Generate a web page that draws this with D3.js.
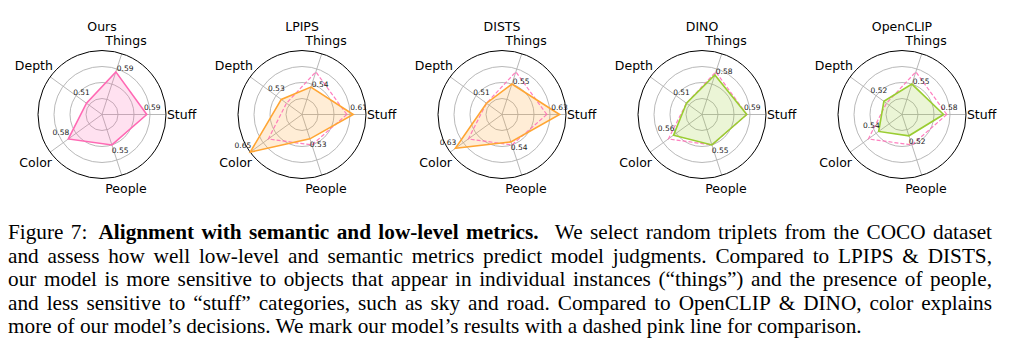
<!DOCTYPE html>
<html>
<head>
<meta charset="utf-8">
<script src="https://cdn.jsdelivr.net/npm/d3@7"></script>
<style>
  html, body { margin: 0; padding: 0; background: #fff; }
  svg { display: block; }
</style>
</head>
<body>
<svg id="chart" width="1012" height="345"></svg>
<script>
// ---------------- data ----------------
const axisNames = ["Stuff", "Things", "Depth", "Color", "People"];
const panelTitles = ["Ours", "LPIPS", "DISTS", "DINO", "OpenCLIP"];
const oursValues = [0.59, 0.59, 0.51, 0.58, 0.55];
const lpipsValues = [0.61, 0.54, 0.53, 0.65, 0.53];
const distsValues = [0.63, 0.55, 0.51, 0.63, 0.54];
const dinoValues = [0.59, 0.58, 0.51, 0.56, 0.55];
const openclipValues = [0.58, 0.55, 0.52, 0.54, 0.52];
const radialDomain = [0.45, 0.65];
const gridTicks = [0.50, 0.55, 0.60];
const captionLines = [
  "Figure 7: Alignment with semantic and low-level metrics. We select random triplets from the COCO dataset",
  "and assess how well low-level and semantic metrics predict model judgments. Compared to LPIPS & DISTS,",
  "our model is more sensitive to objects that appear in individual instances (\u201cthings\u201d) and the presence of people,",
  "and less sensitive to \u201cstuff\u201d categories, such as sky and road. Compared to OpenCLIP & DINO, color explains",
  "more of our model\u2019s decisions. We mark our model\u2019s results with a dashed pink line for comparison."
];
const boldPhrase = "Alignment with semantic and low-level metrics.";

// ---------------- styles ----------------
const seriesValues = [oursValues, lpipsValues, distsValues, dinoValues, openclipValues];
const seriesColors = ["#ff69b4", "#ffa533", "#ffa533", "#9acd32", "#9acd32"];
const pink = "#ff69b4";
const R = 64;
const panelW = 200, firstCx = 102, cy = 114.5;
const labelFont = "DejaVu Sans, sans-serif";
const valueOffsets = [[5.5, -7], [9.3, -3], [-5, -10.5], [-7.4, -6.3], [8.3, 5.7]];
const stuffLabelMaxX = 57.5;

const svg = d3.select("#chart");
const r = d3.scaleLinear().domain(radialDomain).range([0, R]);
// d3 radial angle: 0 at 12 o'clock, clockwise. Axis i at 72*i deg counter-clockwise from east.
const angle = d3.scaleLinear().domain([0, axisNames.length])
  .range([Math.PI / 2, Math.PI / 2 - 2 * Math.PI]);

const line = d3.lineRadial()
  .angle((d, i) => angle(i))
  .radius(d => r(d))
  .curve(d3.curveLinearClosed);

panelTitles.forEach((title, p) => {
  const g = svg.append("g").attr("transform", `translate(${firstCx + p * panelW},${cy})`);
  const vals = seriesValues[p];
  const col = seriesColors[p];

  g.selectAll("circle.grid").data(gridTicks).join("circle")
    .attr("r", d => r(d)).attr("fill", "none")
    .attr("stroke", "#b0b0b0").attr("stroke-width", 0.9);
  g.selectAll("line.spoke").data(axisNames).join("line")
    .attr("x1", 0).attr("y1", 0)
    .attr("x2", (d, i) => d3.pointRadial(angle(i), R)[0])
    .attr("y2", (d, i) => d3.pointRadial(angle(i), R)[1])
    .attr("stroke", "#b0b0b0").attr("stroke-width", 0.9);
  g.append("circle").attr("r", R).attr("fill", "none")
    .attr("stroke", "#000").attr("stroke-width", 1);

  g.append("path").datum(vals).attr("d", line)
    .attr("fill", col).attr("fill-opacity", 0.2).attr("stroke", "none");
  if (p > 0) {
    g.append("path").datum(oursValues).attr("d", line)
      .attr("fill", "none").attr("stroke", pink).attr("stroke-width", 1.2)
      .attr("stroke-dasharray", "4,2").attr("stroke-opacity", 0.85);
  }
  g.append("path").datum(vals).attr("d", line)
    .attr("fill", "none").attr("stroke", col).attr("stroke-width", 1.6)
    .attr("stroke-linejoin", "miter");

  g.selectAll("text.val").data(vals).join("text")
    .attr("x", (d, i) => {
      const x = d3.pointRadial(angle(i), r(d))[0] + valueOffsets[i][0];
      return i === 0 ? Math.min(x, stuffLabelMaxX) : x;
    })
    .attr("y", (d, i) => d3.pointRadial(angle(i), r(d))[1] + valueOffsets[i][1])
    .attr("text-anchor", "middle").attr("dominant-baseline", "central")
    .attr("font-family", labelFont).attr("font-size", 7.5).attr("fill", "#222")
    .text(d => d3.format(".2f")(d));

  axisNames.forEach((name, i) => {
    const t = g.append("text").text(name)
      .attr("font-family", labelFont).attr("font-size", 12.5).attr("fill", "#000")
      .attr("text-anchor", "middle").attr("dominant-baseline", "central");
    const hw = t.node().getComputedTextLength() / 2;
    const a = angle(i);
    const rr = R + 0.9 + Math.abs(Math.sin(a)) * hw + Math.abs(Math.cos(a)) * 6.6;
    const [x, y] = d3.pointRadial(a, rr);
    t.attr("x", x).attr("y", y);
  });

  g.append("text").text(title)
    .attr("x", 0).attr("y", 30.5 - cy)
    .attr("text-anchor", "middle")
    .attr("font-family", labelFont).attr("font-size", 12.5).attr("fill", "#000");
});

// ---------------- caption ----------------
const capX0 = 8, capX1 = 992, capY0 = 239, capDy = 23.6, lastLineRight = 862;
const capFont = "Liberation Serif, Times New Roman, serif";
const boldWords = boldPhrase.split(" ");
const cap = svg.append("g");

// fit font size so the (unjustified) last line has the reference width
const probe = cap.append("text").attr("font-family", capFont).attr("font-size", 20)
  .text(captionLines[captionLines.length - 1]);
const capSize = 20 * (lastLineRight - capX0) / probe.node().getComputedTextLength();
probe.remove();

captionLines.forEach((txt, li) => {
  const y = capY0 + li * capDy;
  if (li === captionLines.length - 1) {
    cap.append("text").attr("x", capX0).attr("y", y)
      .attr("font-family", capFont).attr("font-size", capSize).attr("fill", "#000")
      .text(txt);
    return;
  }
  const words = txt.split(" ");
  const isBold = words.map((w, wi) => li === 0 && wi >= 2 && wi < 2 + boldWords.length);
  const nodes = words.map((w, wi) => cap.append("text").text(w)
    .attr("y", y).attr("font-family", capFont).attr("font-size", capSize)
    .attr("font-weight", isBold[wi] ? "bold" : "normal").attr("fill", "#000"));
  const widths = nodes.map(n => n.node().getComputedTextLength());
  const weights = words.slice(0, -1).map((w, wi) => {
    if (li === 0 && wi === 1) return 1.5;
    if (li === 0 && wi === 1 + boldWords.length) return 2.2;
    return 1;
  });
  const gap = (capX1 - capX0 - d3.sum(widths)) / d3.sum(weights);
  let x = capX0;
  nodes.forEach((n, wi) => {
    n.attr("x", x);
    x += widths[wi] + (wi < weights.length ? gap * weights[wi] : 0);
  });
});
</script>
</body>
</html>
